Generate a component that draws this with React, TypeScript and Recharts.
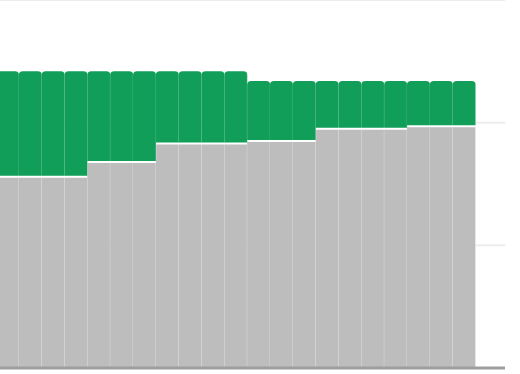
import { BarChart, Bar, XAxis, YAxis, CartesianGrid, ReferenceLine, Rectangle } from 'recharts';

// weeks shown in the crop (the first one is partly cut off on the left)
const weeks = ['1', '2', '3', '4', '5', '6', '7', '8', '9', '10', '11', '12', '13', '14', '15', '16', '17', '18', '19', '20', '21'];

const baseValues = [
    1.56, 1.56, 1.56, 1.56, 1.68, 1.68, 1.68, 1.83, 1.83, 1.83, 1.83,
    1.85, 1.85, 1.85, 1.95, 1.95, 1.95, 1.95, 1.97, 1.97, 1.97,
];
const extraValues = [
    0.86, 0.86, 0.86, 0.86, 0.74, 0.74, 0.74, 0.59, 0.59, 0.59, 0.59,
    0.49, 0.49, 0.49, 0.39, 0.39, 0.39, 0.39, 0.37, 0.37, 0.37,
];
const yTicks = [0, 1, 2, 3];

const data = weeks.map((w, i) => ({ week: w, base: baseValues[i], extra: extraValues[i] }));

const GREEN = '#109e58';
const GREY = '#bdbdbd';

// grey segment: a white 1px band on top so the stack shows a 2px seam
const BaseShape = (props: any) => {
    const { x, y, width, height } = props;
    return (
        <g>
            <Rectangle x={x} y={y + 1} width={width} height={height - 1} fill={GREY} />
            <line x1={x + width} y1={y + 1} x2={x + width} y2={y + height} stroke="#fff" strokeOpacity={0.55} strokeWidth={1} />
        </g>
    );
};

const ExtraShape = (props: any) => {
    const { x, y, width, height } = props;
    return (
        <g>
            <Rectangle x={x} y={y} width={width} height={height - 1} fill={GREEN} radius={[4, 4, 0, 0]} />
            <line x1={x + width} y1={y + 3} x2={x + width} y2={y + height - 1} stroke="#fff" strokeOpacity={0.3} strokeWidth={1} />
        </g>
    );
};

export default function App() {
    return (
        <div style={{ position: 'fixed', left: 0, top: 0, width: 520, height: 374, overflow: 'hidden', background: '#fff' }}>
            <div style={{ position: 'absolute', left: -4.5, top: 0 }}>
                <BarChart
                    width={509.5}
                    height={374}
                    data={data}
                    margin={{ top: 0, right: 0, bottom: 6, left: 0 }}
                    barCategoryGap={0}
                >
                    <CartesianGrid vertical={false} stroke="#ececec" strokeWidth={2} />
                    <XAxis dataKey="week" hide padding={{ left: 0, right: 30 }} />
                    <YAxis hide domain={[0, 3]} ticks={yTicks} />
                    <Bar dataKey="base" stackId="a" shape={BaseShape} isAnimationActive={false} />
                    <Bar dataKey="extra" stackId="a" shape={ExtraShape} isAnimationActive={false} />
                    <ReferenceLine y={0} stroke="#9e9e9e" strokeWidth={3} />
                </BarChart>
            </div>
        </div>
    );
}
